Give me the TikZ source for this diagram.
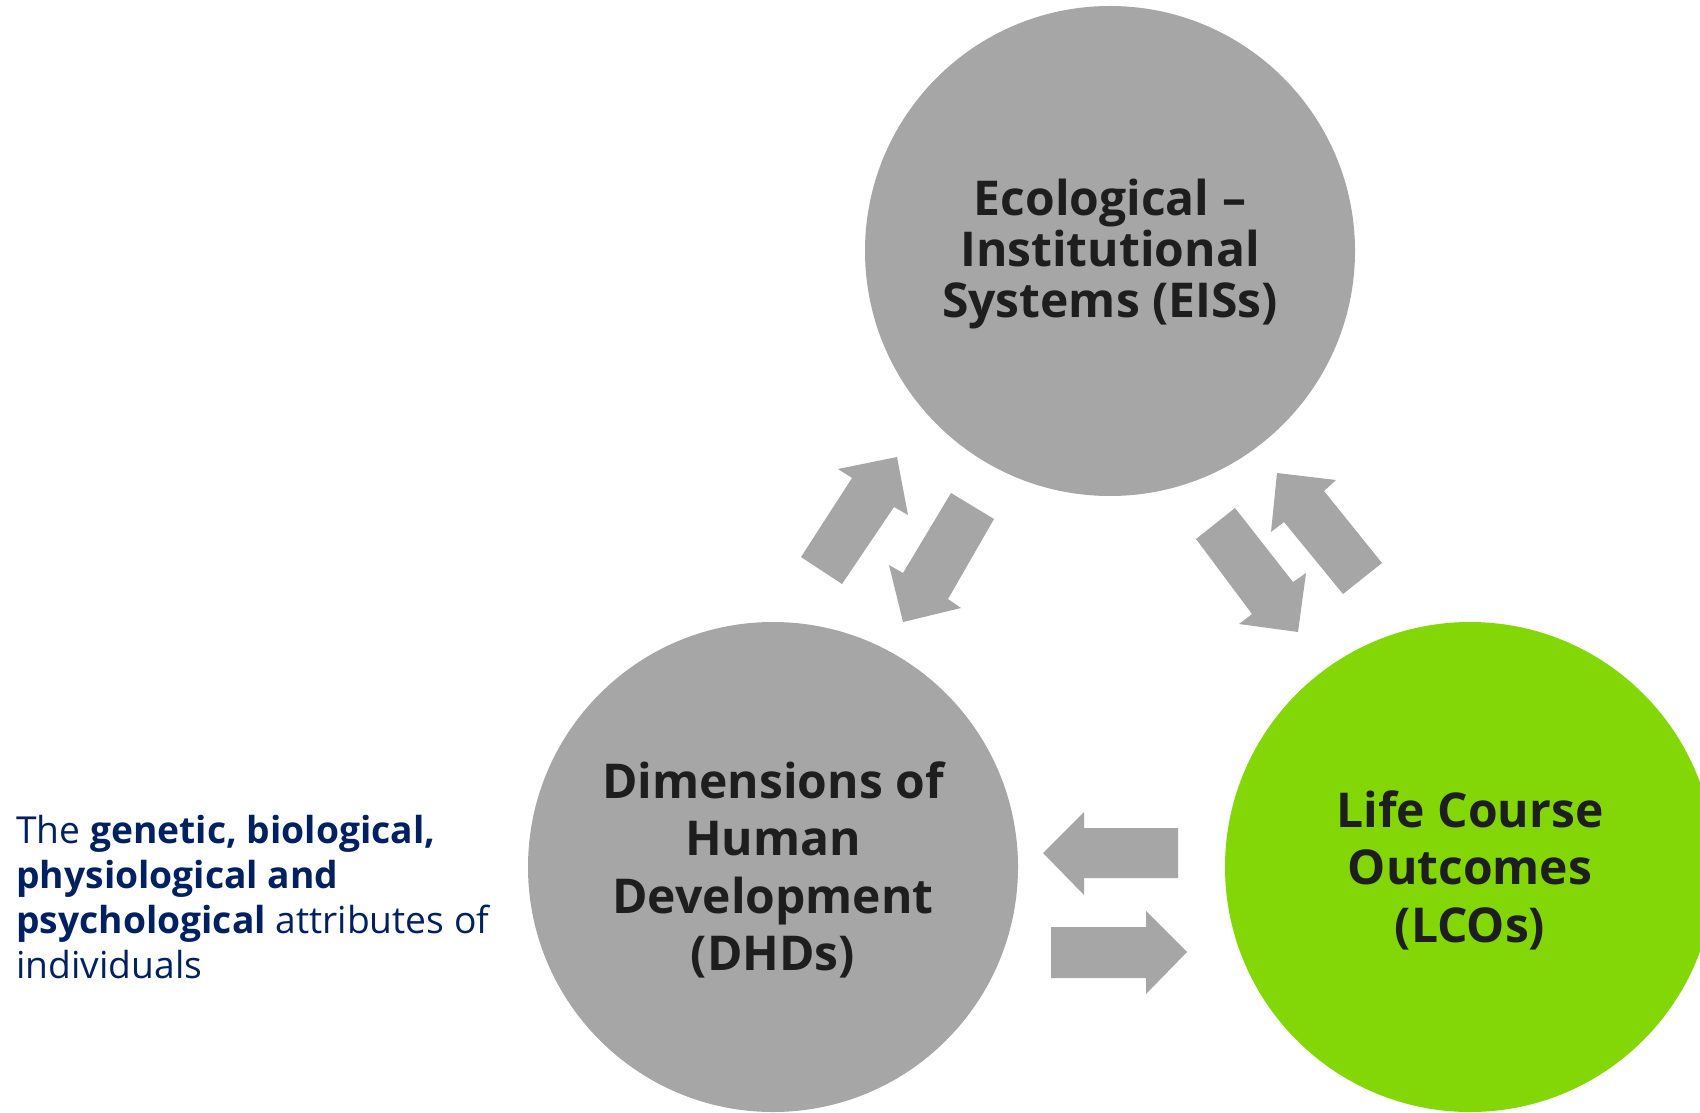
\documentclass[tikz,border=0pt]{standalone}
\usepackage{fontspec}
\setmainfont{Open Sans}
\definecolor{circgrey}{RGB}{166,166,166}
\definecolor{lcogreen}{RGB}{132,215,6}
\definecolor{labeltext}{RGB}{30,30,30}
\definecolor{navytext}{RGB}{0,32,96}
\begin{document}
\begin{tikzpicture}[x=0.5pt,y=0.5pt,yscale=-1,xscale=1,
  circ/.style={circle,minimum size=245pt,inner sep=0pt},
  circtext/.style={inner sep=0pt,align=center,text=labeltext,
    font=\bfseries\fontsize{24}{28.75}\selectfont},
  blockarrow/.style={fill=circgrey}]
\path[use as bounding box,clip] (0,0) rectangle (1700,1112);

%Shape: Circle
\node[circ,fill=circgrey] (eis) at (1110,251) {};
%Shape: Circle
\node[circ,fill=circgrey] (dhd) at (773,867) {};
%Shape: Circle
\node[circ,fill=lcogreen] (lco) at (1470,867) {};

% Text Node
\node[circtext,font=\bfseries\fontsize{24}{25.5}\selectfont] (eistext) at (1110,254) {Ecological –\\Institutional\\Systems (EISs)};
% Text Node
\node[circtext] (dhdtext) at (773,870) {Dimensions of\\Human\\Development\\(DHDs)};
% Text Node
\node[circtext] (lcotext) at (1470,870) {Life Course\\Outcomes\\(LCOs)};

%Shape: Right Arrow (DHD to EIS)
\fill[blockarrow] (801,557) -- (852,478) -- (838,469) -- (897,457) -- (908,515) -- (894,507) -- (842,584) -- cycle;
%Shape: Right Arrow (EIS to DHD)
\fill[blockarrow] (951,493) -- (994,519) -- (948,599) -- (961,608) -- (903,622) -- (889,565) -- (903,573) -- cycle;
%Shape: Right Arrow (EIS to LCO)
\fill[blockarrow] (1235,508) -- (1293,582) -- (1306,573) -- (1298,632) -- (1239,624) -- (1252,614) -- (1196,539) -- cycle;
%Shape: Right Arrow (LCO to EIS)
\fill[blockarrow] (1382,563) -- (1324,491) -- (1336,480) -- (1277,473) -- (1271,532) -- (1284,522) -- (1343,594) -- cycle;
%Shape: Left Arrow (LCO to DHD)
\fill[blockarrow] (1178,828) -- (1084,828) -- (1084,812) -- (1043,853) -- (1084,895) -- (1084,878) -- (1178,878) -- cycle;
%Shape: Right Arrow (DHD to LCO)
\fill[blockarrow] (1051,927) -- (1146,927) -- (1146,911) -- (1187,952) -- (1146,994) -- (1146,978) -- (1051,978) -- cycle;

% Text Node
\node[anchor=north west,inner sep=0pt,align=left,text=navytext,font=\fontsize{18.6}{22.5}\selectfont] (attr) at (16,815) {The \textbf{genetic, biological,}\\\textbf{physiological and}\\\textbf{psychological} attributes of\\individuals};
\end{tikzpicture}
\end{document}
